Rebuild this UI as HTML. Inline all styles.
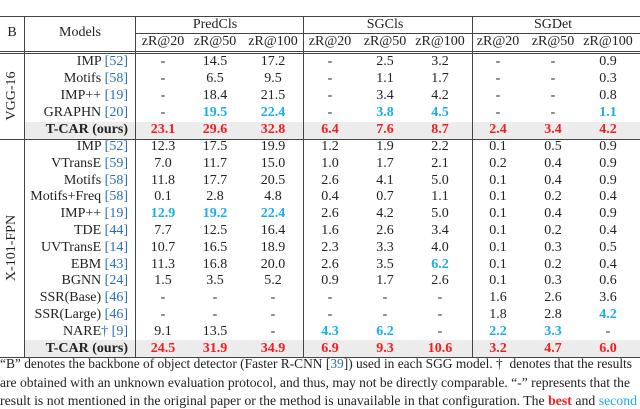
<!DOCTYPE html>
<html><head><meta charset="utf-8">
<style>
html,body{margin:0;padding:0;background:#fff;}
#root{position:relative;width:640px;height:409px;overflow:hidden;font-family:"Liberation Serif",serif;color:#222;font-size:14px;}
.t{position:absolute;white-space:nowrap;line-height:16px;}
.c{transform:translateX(-50%);}
.r{transform:translateX(-100%);}
.h{position:absolute;height:1px;background:#444;}
.v{position:absolute;width:1px;background:#444;}
.cite{color:#2a6ebb;}
.red{color:#f01e1e;font-weight:bold;}
.blue{color:#1aaee8;font-weight:bold;}
.cap{position:absolute;left:0;font-size:14px;line-height:18.5px;white-space:nowrap;color:#222;transform-origin:0 0;}
</style></head>
<body>
<div id="root"></div>
<script>
const cols=[163,215,273,330,385,440,498,553,608];
const rowsV=[
 ["IMP","52",["-","14.5","17.2","-","2.5","3.2","-","-","0.9"]],
 ["Motifs","58",["-","6.5","9.5","-","1.1","1.7","-","-","0.3"]],
 ["IMP++","19",["-","18.4","21.5","-","3.4","4.2","-","-","0.8"]],
 ["GRAPHN","20",["-","b19.5","b22.4","-","b3.8","b4.5","-","-","b1.1"]],
 ["T-CAR (ours)","",["r23.1","r29.6","r32.8","r6.4","r7.6","r8.7","r2.4","r3.4","r4.2"]]
];
const rowsX=[
 ["IMP","52",["12.3","17.5","19.9","1.2","1.9","2.2","0.1","0.5","0.9"]],
 ["VTransE","59",["7.0","11.7","15.0","1.0","1.7","2.1","0.2","0.4","0.9"]],
 ["Motifs","58",["11.8","17.7","20.5","2.6","4.1","5.0","0.1","0.4","0.9"]],
 ["Motifs+Freq","58",["0.1","2.8","4.8","0.4","0.7","1.1","0.1","0.2","0.4"]],
 ["IMP++","19",["b12.9","b19.2","b22.4","2.6","4.2","5.0","0.1","0.4","0.9"]],
 ["TDE","44",["7.7","12.5","16.4","1.6","2.6","3.4","0.1","0.2","0.4"]],
 ["UVTransE","14",["10.7","16.5","18.9","2.3","3.3","4.0","0.1","0.3","0.5"]],
 ["EBM","43",["11.3","16.8","20.0","2.6","3.5","b6.2","0.1","0.2","0.4"]],
 ["BGNN","24",["1.5","3.5","5.2","0.9","1.7","2.6","0.1","0.3","0.6"]],
 ["SSR(Base)","46",["-","-","-","-","-","-","1.6","2.6","3.6"]],
 ["SSR(Large)","46",["-","-","-","-","-","-","1.8","2.8","b4.2"]],
 ["NARE","9",["9.1","13.5","-","b4.3","b6.2","-","b2.2","b3.3","-"]],
 ["T-CAR (ours)","",["r24.5","r31.9","r34.9","r6.9","r9.3","r10.6","r3.2","r4.7","r6.0"]]
];
const groups=["PredCls","SGCls","SGDet"];
const subs=["zR@20","zR@50","zR@100"];
const root=document.getElementById('root');
function add(html,cls,x,y,name){
 const d=document.createElement('div');
 d.className='t '+cls;d.style.left=x+'px';d.style.top=(y-8)+'px';d.innerHTML=html;
 
 
 root.appendChild(d);return d;
}
function line(cls,x,y,w,h,name){
 const d=document.createElement('div');d.className=cls;
 d.style.left=x+'px';d.style.top=y+'px';
 if(w)d.style.width=w+'px'; if(h)d.style.height=h+'px';
 
 
 root.appendChild(d);
}
function band(y,name){
 const d=document.createElement('div');
 d.style.cssText='position:absolute;left:25px;width:615px;height:17px;background:#ececec;top:'+y+'px';
 
 
 root.appendChild(d);
}
band(122,'vgg-ours-highlight');band(340,'x101-ours-highlight');
line('h',0,16,640,0,'top-rule');
line('h',135,33,505,0,'group-rule');
line('h',0,51,640,0,'header-rule-1');
line('h',0,53,640,0,'header-rule-2');
line('h',0,139,640,0,'block-rule');
line('h',0,357,640,0,'bottom-rule');
[24,135,303,472].forEach((x,i)=>line('v',x,16,0,341,'column-divider-'+i));
add('B','c',12,33,'backbone-header');
add('Models','c',80,33,'models-header');
groups.forEach((g,i)=>{
 add(g,'c',cols[i*3+1],25,'group-header');
 subs.forEach((s,j)=>add(s,'c',cols[i*3+j],42,'metric-header'));
});
function rot(txt,y,name){
 const d=document.createElement('div');d.className='t';
 d.style.left='12px';d.style.top=y+'px';
 d.style.transform='translate(-50%,-50%) rotate(-90deg)';d.textContent=txt;
 
 
 root.appendChild(d);
}
rot('VGG-16',96,'vgg16-label');rot('X-101-FPN',248,'x101-label');
function rows(list,y0,h){
 list.forEach((r,i)=>{
  const y=y0+i*h;
  let name=r[0];
  if(r[0]==='NARE') name='NARE<span class="cite">†</span>';
  const label=r[1]?name+' <span class="cite">['+r[1]+']</span>':'<b>'+name+'</b>';
  add(label,'r',128,y,'model-name');
  r[2].forEach((v,j)=>{
   let cls='',t=v;
   if(v[0]==='r'){cls='red';t=v.slice(1);} else if(v[0]==='b'){cls='blue';t=v.slice(1);}
   add('<span class="'+cls+'">'+t+'</span>','c',cols[j],y,'value-cell');
  });
 });
}
rows(rowsV,62,17);
rows(rowsX,147,16.8);
const caps=[
 '“B” denotes the backbone of object detector (Faster R-CNN [<span class="cite">39</span>]) used in each SGG model. †&nbsp; denotes that the results',
 'are obtained with an unknown evaluation protocol, and thus, may not be directly comparable. “-” represents that the',
 'result is not mentioned in the original paper or the method is unavailable in that configuration. The <span class="red">best</span> and <span class="blue" style="font-weight:normal">second</span>'
];
const capW=[632,630,637];
caps.forEach((c,i)=>{
 const d=document.createElement('div');d.className='cap';
 d.style.top=(356+i*18.5)+'px';d.innerHTML=c;
 
 
 root.appendChild(d);
 const w=d.getBoundingClientRect().width;
 d.style.transform='scaleX('+(capW[i]/w)+')';
});
</script>
</body></html>
